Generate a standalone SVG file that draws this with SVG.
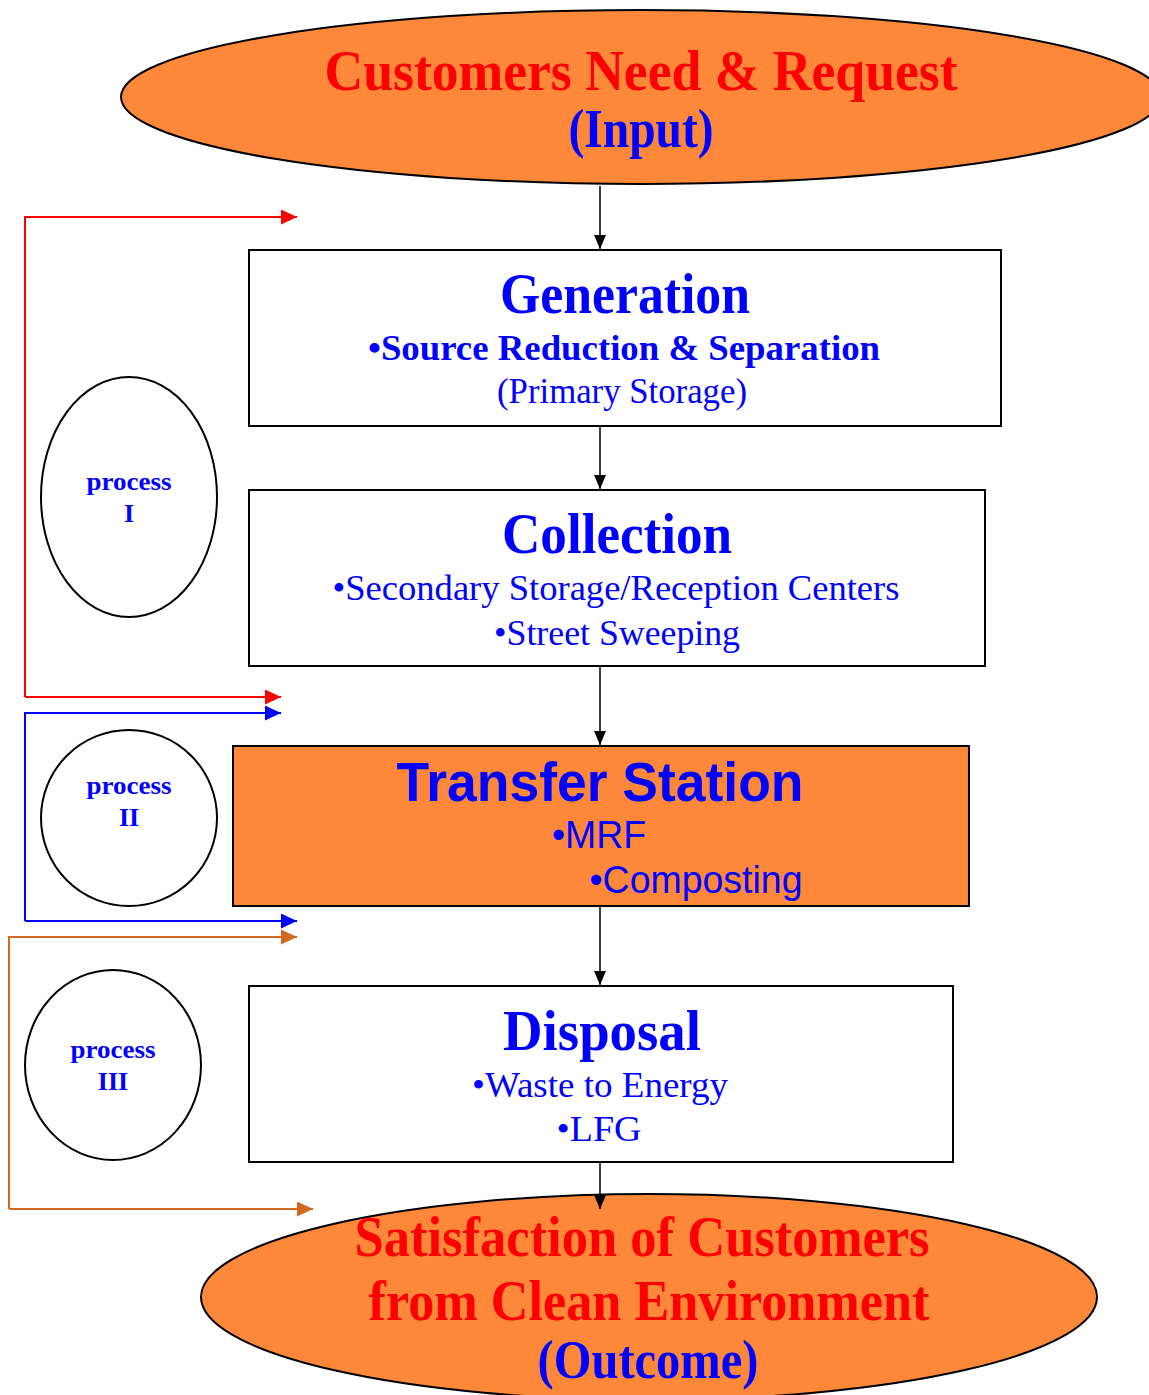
<svg xmlns="http://www.w3.org/2000/svg" width="1149" height="1395" viewBox="0 0 1149 1395">
<style>
.bg{fill:#ffffff}
.oval{fill:#FD8839;stroke:#000;stroke-width:2}
.box{fill:#ffffff;stroke:#000;stroke-width:2}
.boxo{fill:#FD8839;stroke:#000;stroke-width:2}
.pc{fill:#ffffff;stroke:#000;stroke-width:2}
.ser{font-family:"Liberation Serif","Times New Roman",serif}
.sans{font-family:"Liberation Sans",Arial,sans-serif}
.b{font-weight:bold}
.red{fill:#FF0000}
.blue{fill:#0000FF}
.flow{fill:none;stroke:#000;stroke-width:1.5}
.lr{fill:none;stroke:#FF0000;stroke-width:2}
.lb{fill:none;stroke:#0000FF;stroke-width:2}
.lo{fill:none;stroke:#D2691E;stroke-width:2}
</style>
<defs>
<marker id="ak" markerWidth="14" markerHeight="12" refX="14" refY="6" orient="auto" markerUnits="userSpaceOnUse" viewBox="0 0 14 12"><path d="M0,0 L14,6 L0,12 z" fill="#000"/></marker>
<marker id="ar" markerWidth="16" markerHeight="15" refX="16" refY="7.5" orient="auto" markerUnits="userSpaceOnUse" viewBox="0 0 16 15"><path d="M0,0 L16,7.5 L0,15 z" fill="#FF0000"/></marker>
<marker id="ab" markerWidth="16" markerHeight="15" refX="16" refY="7.5" orient="auto" markerUnits="userSpaceOnUse" viewBox="0 0 16 15"><path d="M0,0 L16,7.5 L0,15 z" fill="#0000FF"/></marker>
<marker id="ao" markerWidth="16" markerHeight="15" refX="16" refY="7.5" orient="auto" markerUnits="userSpaceOnUse" viewBox="0 0 16 15"><path d="M0,0 L16,7.5 L0,15 z" fill="#D2691E"/></marker>
</defs>
<rect class="bg" x="0" y="0" width="1149" height="1395"/>

<g id="input">
<ellipse class="oval" cx="641" cy="97" rx="520" ry="87"/>
<text class="ser b red" x="641" y="90" font-size="58" text-anchor="middle" textLength="633" lengthAdjust="spacingAndGlyphs">Customers Need &amp; Request</text>
<text class="ser b blue" x="641" y="147" font-size="54" text-anchor="middle" textLength="145" lengthAdjust="spacingAndGlyphs">(Input)</text>
</g>

<g id="generation">
<rect class="box" x="249" y="250" width="752" height="176"/>
<text class="ser b blue" x="625" y="313" font-size="56" text-anchor="middle" textLength="250" lengthAdjust="spacingAndGlyphs">Generation</text>
<text class="ser b blue" x="624" y="360" font-size="36" text-anchor="middle" textLength="512" lengthAdjust="spacingAndGlyphs">•Source Reduction &amp; Separation</text>
<text class="ser blue" x="622" y="403" font-size="36" text-anchor="middle" textLength="250" lengthAdjust="spacingAndGlyphs">(Primary Storage)</text>
</g>

<g id="collection">
<rect class="box" x="249" y="490" width="736" height="176"/>
<text class="ser b blue" x="617" y="553" font-size="56" text-anchor="middle" textLength="230" lengthAdjust="spacingAndGlyphs">Collection</text>
<text class="ser blue" x="616" y="600" font-size="36" text-anchor="middle" textLength="567" lengthAdjust="spacingAndGlyphs">•Secondary Storage/Reception Centers</text>
<text class="ser blue" x="617" y="645" font-size="36" text-anchor="middle" textLength="246" lengthAdjust="spacingAndGlyphs">•Street Sweeping</text>
</g>

<g id="transfer">
<rect class="boxo" x="233" y="746" width="736" height="160"/>
<text class="sans b blue" x="600" y="801" font-size="55" text-anchor="middle" textLength="407" lengthAdjust="spacingAndGlyphs">Transfer Station</text>
<text class="sans blue" x="599" y="848" font-size="38" text-anchor="middle" textLength="94" lengthAdjust="spacingAndGlyphs">•MRF</text>
<text class="sans blue" x="696" y="893" font-size="38" text-anchor="middle" textLength="213" lengthAdjust="spacingAndGlyphs">•Composting</text>
</g>

<g id="disposal">
<rect class="box" x="249" y="986" width="704" height="176"/>
<text class="ser b blue" x="602" y="1050" font-size="56" text-anchor="middle" textLength="198" lengthAdjust="spacingAndGlyphs">Disposal</text>
<text class="ser blue" x="600" y="1097" font-size="36" text-anchor="middle" textLength="256" lengthAdjust="spacingAndGlyphs">•Waste to Energy</text>
<text class="ser blue" x="599" y="1141" font-size="36" text-anchor="middle" textLength="85" lengthAdjust="spacingAndGlyphs">•LFG</text>
</g>

<g id="outcome">
<ellipse class="oval" cx="649" cy="1297" rx="448" ry="103"/>
<text class="ser b red" x="642" y="1256" font-size="58" text-anchor="middle" textLength="575" lengthAdjust="spacingAndGlyphs">Satisfaction of Customers</text>
<text class="ser b red" x="649" y="1320" font-size="58" text-anchor="middle" textLength="561" lengthAdjust="spacingAndGlyphs">from Clean Environment</text>
<text class="ser b blue" x="648" y="1378" font-size="54" text-anchor="middle" textLength="221" lengthAdjust="spacingAndGlyphs">(Outcome)</text>
</g>

<g id="process1">
<ellipse class="pc" cx="129" cy="497" rx="88" ry="120"/>
<text class="ser b blue" x="129" y="490" font-size="25" text-anchor="middle" textLength="85" lengthAdjust="spacingAndGlyphs">process</text>
<text class="ser b blue" x="129" y="522" font-size="26" text-anchor="middle">I</text>
</g>

<g id="process2">
<ellipse class="pc" cx="129" cy="818" rx="88" ry="88"/>
<text class="ser b blue" x="129" y="794" font-size="25" text-anchor="middle" textLength="85" lengthAdjust="spacingAndGlyphs">process</text>
<text class="ser b blue" x="129" y="826" font-size="26" text-anchor="middle">II</text>
</g>

<g id="process3">
<ellipse class="pc" cx="113" cy="1065" rx="88" ry="95"/>
<text class="ser b blue" x="113" y="1058" font-size="25" text-anchor="middle" textLength="85" lengthAdjust="spacingAndGlyphs">process</text>
<text class="ser b blue" x="113" y="1090" font-size="26" text-anchor="middle">III</text>
</g>

<g id="connectors">
<line class="flow" x1="600" y1="186" x2="600" y2="249" marker-end="url(#ak)"/>
<line class="flow" x1="600" y1="426" x2="600" y2="489" marker-end="url(#ak)"/>
<line class="flow" x1="600" y1="666" x2="600" y2="745" marker-end="url(#ak)"/>
<line class="flow" x1="600" y1="906" x2="600" y2="985" marker-end="url(#ak)"/>
<line class="flow" x1="600" y1="1162" x2="600" y2="1209" marker-end="url(#ak)"/>
<polyline class="lr" points="25,697 25,217 297,217" marker-end="url(#ar)"/>
<polyline class="lr" points="25,697 281,697" marker-end="url(#ar)"/>
<polyline class="lb" points="25,921 25,713 281,713" marker-end="url(#ab)"/>
<polyline class="lb" points="25,921 297,921" marker-end="url(#ab)"/>
<polyline class="lo" points="9,1209 9,937 297,937" marker-end="url(#ao)"/>
<polyline class="lo" points="9,1209 313,1209" marker-end="url(#ao)"/>
</g>
</svg>
